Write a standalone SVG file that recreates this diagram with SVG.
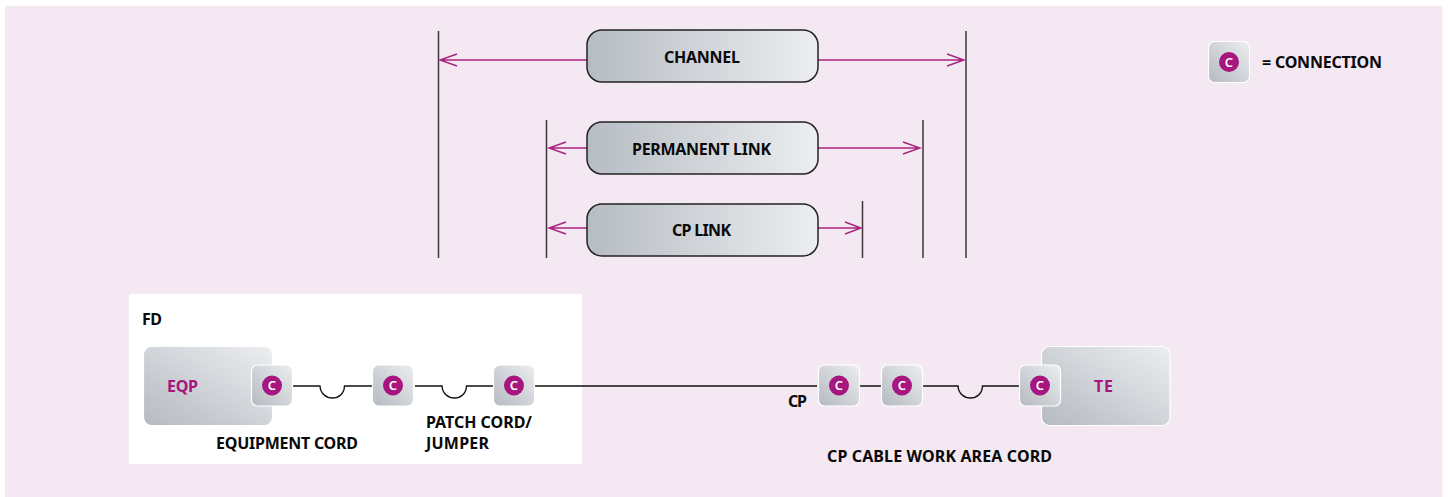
<svg xmlns="http://www.w3.org/2000/svg" width="1448" height="497" viewBox="0 0 1448 497">
<style>
text{font-family:"Noto Sans","Open Sans","Liberation Sans",sans-serif;font-weight:700;font-size:16px;fill:#0a0a0a}
.e{fill:#a6167e}
.pill{fill:url(#g);stroke:#222;stroke-width:1.5}
.box{fill:url(#d);stroke:#fff;stroke-width:1.2}
.dev{fill:url(#d);stroke:#fff;stroke-width:1.2}
.v{stroke:#3a363b;stroke-width:1.5;fill:none}
.w{stroke:#111;stroke-width:1.4;fill:none}
.a{stroke:#a9237f;stroke-width:1.4;fill:none}
.dot{fill:#a6167e}
.c{fill:#fff;font-size:13px;text-anchor:middle;font-weight:600}
</style>
<defs>
<linearGradient id="g" x1="0" x2="1" y1="0" y2="0"><stop offset="0" stop-color="#b6bcc3"/><stop offset="1" stop-color="#eceef0"/></linearGradient>
<linearGradient id="d" x1="0" x2="1" y1="1" y2="0"><stop offset="0" stop-color="#b5bac1"/><stop offset="1" stop-color="#eceef0"/></linearGradient>
<g id="conn"><rect class="box" x="-20.500" y="-20.500" width="41" height="41" rx="6"/><circle class="dot" r="10"/><text class="c" y="4.700">C</text></g>
</defs>
<rect width="1448" height="497" fill="#fff"/>
<rect x="5" y="6" width="1437.500" height="491" fill="#f4e8f3"/>
<rect x="129" y="294" width="453" height="170" fill="#fff"/>
<g id="connectors">
<path class="v" d="M438.500 31V258M546.500 120V258M862.500 201V258M923 120V258M966 31V258"/>
<path class="a" d="M440 60H587M457 54L440 60L457 66M818 60H964M947 54L964 60L947 66"/>
<path class="a" d="M549 148H587M566 142L549 148L566 154M818 148H920M903 142L920 148L903 154"/>
<path class="a" d="M549 228H587M566 222L549 228L566 234M818 228H861M845 222L861 228L845 234"/>
<path class="w" d="M293 386H320C321 402 344 402 344.500 386H372M415 386H442C443 402 466 402 466.500 386H493M535 386H817M859 386H881M923 386H958C959 402 982 402 982.500 386H1019"/>
</g>
<g id="channel"><rect class="pill" x="587" y="30" width="231" height="52" rx="15"/><text x="664" y="63" textLength="76">CHANNEL</text></g>
<g id="permanent-link"><rect class="pill" x="587" y="122" width="231" height="52" rx="15"/><text x="632" y="155" textLength="139">PERMANENT LINK</text></g>
<g id="cp-link"><rect class="pill" x="587" y="204" width="231" height="52" rx="15"/><text x="672" y="236" textLength="59">CP LINK</text></g>
<g id="legend"><use href="#conn" x="1229" y="62"/><text x="1262" y="68" textLength="120">= CONNECTION</text></g>
<g id="fd"><text x="142" y="325" textLength="20">FD</text></g>
<g id="eqp"><rect class="dev" x="143.500" y="346.500" width="129" height="79" rx="8"/><text class="e" x="167" y="392" textLength="31">EQP</text></g>
<g id="c1"><use href="#conn" x="272" y="385.500"/></g>
<g id="c2"><use href="#conn" x="393" y="385.500"/></g>
<g id="c3"><use href="#conn" x="514" y="385.500"/></g>
<g id="te"><rect class="dev" x="1041.500" y="346.500" width="128.500" height="79" rx="8"/><text class="e" x="1094" y="392" textLength="19">TE</text></g>
<g id="c4"><use href="#conn" x="839" y="385.500"/></g>
<g id="c5"><use href="#conn" x="902" y="385.500"/></g>
<g id="c6"><use href="#conn" x="1040" y="385.500"/></g>
<g id="labels">
<text x="216" y="449" textLength="142">EQUIPMENT CORD</text>
<text x="426" y="428" textLength="106">PATCH CORD/</text>
<text x="426" y="449" textLength="63">JUMPER</text>
<text x="788" y="407" textLength="19">CP</text>
<text x="827" y="462" textLength="225">CP CABLE WORK AREA CORD</text>
</g>
</svg>
